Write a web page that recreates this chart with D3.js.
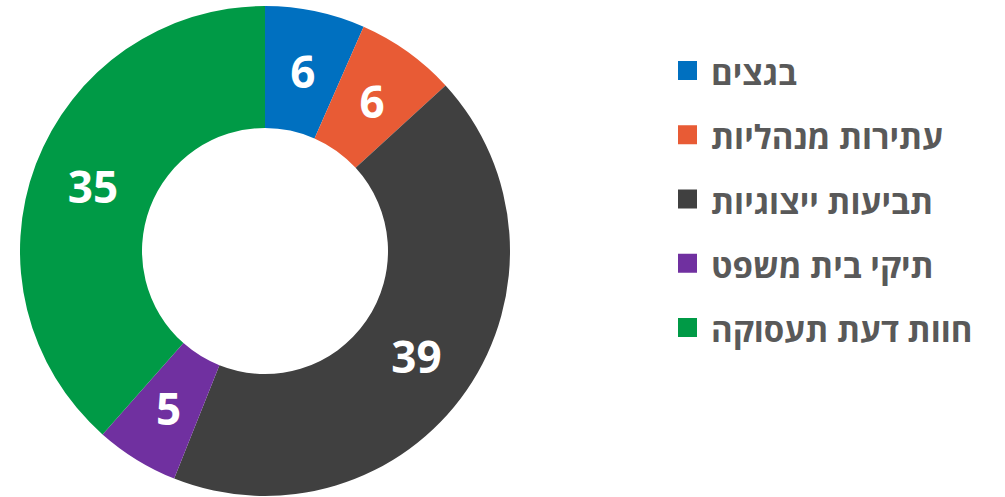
<!DOCTYPE html>
<html>
<head>
<meta charset="utf-8">
<script src="https://cdn.jsdelivr.net/npm/d3@7"></script>
<style>
  body { margin: 0; background: #fff; }
  svg { display: block; }
</style>
</head>
<body>
<script>
// data, clockwise from 12 o'clock
const categories = ["בגצים", "עתירות מנהליות", "תביעות ייצוגיות", "תיקי בית משפט", "חוות דעת תעסוקה"];
const values = [6, 6, 39, 5, 35];
const colors = ["#0070C0", "#E85B35", "#404040", "#7030A0", "#009A46"];

const width = 1005, height = 497;
const cx = 265, cy = 251;
const outerR = 245, innerR = 123;

const svg = d3.select("body").append("svg")
  .attr("width", width)
  .attr("height", height);

const pie = d3.pie().sort(null).value(d => d.value);
const arc = d3.arc().innerRadius(innerR).outerRadius(outerR);

const data = categories.map((c, i) => ({ name: c, value: values[i], color: colors[i] }));

const donut = svg.append("g").attr("transform", `translate(${cx},${cy})`);

donut.selectAll("path")
  .data(pie(data))
  .enter()
  .append("path")
  .attr("d", arc)
  .attr("fill", d => d.data.color);

donut.selectAll("text")
  .data(pie(data))
  .enter()
  .append("text")
  .attr("transform", d => `translate(${arc.centroid(d)})`)
  .attr("text-anchor", "middle")
  .attr("dominant-baseline", "central")
  .attr("fill", "#fff")
  .attr("font-family", "'Open Sans', 'DejaVu Sans', sans-serif")
  .attr("font-weight", 700)
  .attr("font-size", 44)
  .text(d => d.data.value);

// legend
const legendY = d3.scalePoint().domain(categories).range([70.5, 327.5]);

const legend = svg.append("g").selectAll("g")
  .data(data)
  .enter()
  .append("g")
  .attr("transform", d => `translate(0,${legendY(d.name)})`);

legend.append("rect")
  .attr("x", 678)
  .attr("y", -9.5)
  .attr("width", 19)
  .attr("height", 19)
  .attr("fill", d => d.color);

legend.append("text")
  .attr("x", 711)
  .attr("y", 14.5)
  .attr("fill", "#595959")
  .attr("font-family", "'Open Sans', 'DejaVu Sans', sans-serif")
  .attr("font-weight", 700)
  .attr("font-size", 33)
  .text(d => d.name);
</script>
</body>
</html>
